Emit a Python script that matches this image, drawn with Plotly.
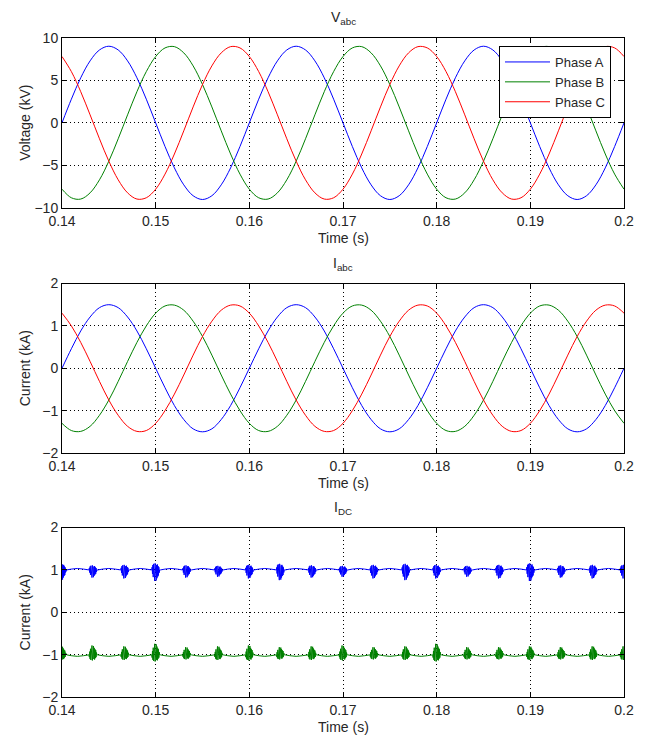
import plotly.graph_objects as go

# ---------------- data ----------------
t_ms = list(range(140, 201))            # sample times in ms (1 ms spacing)
t = [v / 1000 for v in t_ms]

va = [0, 2.78, 5.29, 7.28, 8.56, 9.0, 8.56, 7.28, 5.29, 2.78,
      0, -2.78, -5.29, -7.28, -8.56, -9.0, -8.56, -7.28, -5.29, -2.78,
      0, 2.78, 5.29, 7.28, 8.56, 9.0, 8.56, 7.28, 5.29, 2.78,
      0, -2.78, -5.29, -7.28, -8.56, -9.0, -8.56, -7.28, -5.29, -2.78,
      0, 2.78, 5.29, 7.28, 8.56, 9.0, 8.56, 7.28, 5.29, 2.78,
      0, -2.78, -5.29, -7.28, -8.56, -9.0, -8.56, -7.28, -5.29, -2.78, 0]
vb = [-7.79, -8.80, -8.95, -8.22, -6.69, -4.5, -1.87, 0.94, 3.66, 6.02,
      7.79, 8.80, 8.95, 8.22, 6.69, 4.5, 1.87, -0.94, -3.66, -6.02,
      -7.79, -8.80, -8.95, -8.22, -6.69, -4.5, -1.87, 0.94, 3.66, 6.02,
      7.79, 8.80, 8.95, 8.22, 6.69, 4.5, 1.87, -0.94, -3.66, -6.02,
      -7.79, -8.80, -8.95, -8.22, -6.69, -4.5, -1.87, 0.94, 3.66, 6.02,
      7.79, 8.80, 8.95, 8.22, 6.69, 4.5, 1.87, -0.94, -3.66, -6.02, -7.79]
vc = [7.79, 6.02, 3.66, 0.94, -1.87, -4.5, -6.69, -8.22, -8.95, -8.80,
      -7.79, -6.02, -3.66, -0.94, 1.87, 4.5, 6.69, 8.22, 8.95, 8.80,
      7.79, 6.02, 3.66, 0.94, -1.87, -4.5, -6.69, -8.22, -8.95, -8.80,
      -7.79, -6.02, -3.66, -0.94, 1.87, 4.5, 6.69, 8.22, 8.95, 8.80,
      7.79, 6.02, 3.66, 0.94, -1.87, -4.5, -6.69, -8.22, -8.95, -8.80,
      -7.79, -6.02, -3.66, -0.94, 1.87, 4.5, 6.69, 8.22, 8.95, 8.80, 7.79]

ia = [0, 0.46, 0.88, 1.21, 1.43, 1.5, 1.43, 1.21, 0.88, 0.46,
      0, -0.46, -0.88, -1.21, -1.43, -1.5, -1.43, -1.21, -0.88, -0.46,
      0, 0.46, 0.88, 1.21, 1.43, 1.5, 1.43, 1.21, 0.88, 0.46,
      0, -0.46, -0.88, -1.21, -1.43, -1.5, -1.43, -1.21, -0.88, -0.46,
      0, 0.46, 0.88, 1.21, 1.43, 1.5, 1.43, 1.21, 0.88, 0.46,
      0, -0.46, -0.88, -1.21, -1.43, -1.5, -1.43, -1.21, -0.88, -0.46, 0]
ib = [-1.30, -1.47, -1.49, -1.37, -1.11, -0.75, -0.31, 0.16, 0.61, 1.00,
      1.30, 1.47, 1.49, 1.37, 1.11, 0.75, 0.31, -0.16, -0.61, -1.00,
      -1.30, -1.47, -1.49, -1.37, -1.11, -0.75, -0.31, 0.16, 0.61, 1.00,
      1.30, 1.47, 1.49, 1.37, 1.11, 0.75, 0.31, -0.16, -0.61, -1.00,
      -1.30, -1.47, -1.49, -1.37, -1.11, -0.75, -0.31, 0.16, 0.61, 1.00,
      1.30, 1.47, 1.49, 1.37, 1.11, 0.75, 0.31, -0.16, -0.61, -1.00, -1.30]
ic = [1.30, 1.00, 0.61, 0.16, -0.31, -0.75, -1.11, -1.37, -1.49, -1.47,
      -1.30, -1.00, -0.61, -0.16, 0.31, 0.75, 1.11, 1.37, 1.49, 1.47,
      1.30, 1.00, 0.61, 0.16, -0.31, -0.75, -1.11, -1.37, -1.49, -1.47,
      -1.30, -1.00, -0.61, -0.16, 0.31, 0.75, 1.11, 1.37, 1.49, 1.47,
      1.30, 1.00, 0.61, 0.16, -0.31, -0.75, -1.11, -1.37, -1.49, -1.47,
      -1.30, -1.00, -0.61, -0.16, 0.31, 0.75, 1.11, 1.37, 1.49, 1.47, 1.30]

# DC current: commutation bursts and the small arch between them
dc_level = 1.0
burst_t = [0.1400, 0.1433, 0.1467, 0.1500, 0.1533, 0.1567, 0.1600, 0.1633,
           0.1667, 0.1700, 0.1733, 0.1767, 0.1800, 0.1833, 0.1867, 0.1900,
           0.1933, 0.1967, 0.2000]
burst_amp_pos = [1.2, 0.9, 1.0, 1.3, 0.9, 0.8, 1.0, 1.2, 0.9, 0.8,
                 1.0, 1.2, 1.0, 0.8, 1.0, 1.3, 0.9, 1.0, 1.0]
burst_amp_neg = [1.0, 1.1, 1.0, 1.3, 0.9, 1.0, 1.1, 0.9, 1.0, 1.1,
                 0.9, 1.0, 1.3, 0.9, 0.9, 1.0, 0.9, 1.0, 1.0]
burst_dt_ms = [-0.42, -0.38, -0.34, -0.30, -0.26, -0.22, -0.18, -0.14, -0.10,
               -0.06, -0.02, 0.02, 0.06, 0.10, 0.14, 0.18, 0.22, 0.26, 0.30,
               0.34, 0.38, 0.42]
burst_dy = [0.0, 0.05, -0.07, 0.09, -0.13, 0.11, -0.17, 0.10, -0.20, 0.12,
            -0.16, 0.11, -0.19, 0.09, -0.15, 0.10, -0.12, 0.07, -0.10, 0.05,
            -0.05, 0.0]
arch_f = [0.15, 0.3, 0.5, 0.7, 0.85]
arch_dy = [0.0, 0.02, 0.035, 0.02, 0.0]

x_ticks = [0.14, 0.15, 0.16, 0.17, 0.18, 0.19, 0.2]
x_tick_text = ["0.14", "0.15", "0.16", "0.17", "0.18", "0.19", "0.2"]
v_ticks = [-10, -5, 0, 5, 10]
i_ticks = [-2, -1, 0, 1, 2]


def dc_series(sign, amps):
    xs, ys = [], []
    for k, c in enumerate(burst_t):
        for dt, dy in zip(burst_dt_ms, burst_dy):
            xs.append(c + dt / 1000)
            ys.append(sign * (dc_level + amps[k] * dy))
        if k + 1 < len(burst_t):
            nxt = burst_t[k + 1]
            for f, ay in zip(arch_f, arch_dy):
                xs.append(c + f * (nxt - c))
                ys.append(sign * (dc_level + ay))
    return xs, ys


BLUE, GREEN, RED = "rgb(0,0,255)", "rgb(0,128,0)", "rgb(255,0,0)"
FONT = "Liberation Sans, Arial, Helvetica, sans-serif"
TXT = "#262626"
FS = 14

fig = go.Figure()
for ys, name, col in [(va, "Phase A", BLUE), (vb, "Phase B", GREEN), (vc, "Phase C", RED)]:
    fig.add_trace(go.Scatter(x=t, y=ys, name=name, mode="lines",
                             line=dict(color=col, width=1, shape="spline", smoothing=1.0),
                             xaxis="x", yaxis="y"))
for ys, col in [(ia, BLUE), (ib, GREEN), (ic, RED)]:
    fig.add_trace(go.Scatter(x=t, y=ys, mode="lines", showlegend=False,
                             line=dict(color=col, width=1, shape="spline", smoothing=1.0),
                             xaxis="x2", yaxis="y2"))
xp, yp = dc_series(1, burst_amp_pos)
xn, yn = dc_series(-1, burst_amp_neg)
fig.add_trace(go.Scatter(x=xp, y=yp, mode="lines", showlegend=False,
                         line=dict(color=BLUE, width=1), xaxis="x3", yaxis="y3"))
fig.add_trace(go.Scatter(x=xn, y=yn, mode="lines", showlegend=False,
                         line=dict(color=GREEN, width=1), xaxis="x3", yaxis="y3"))

# page body has an 8 px margin, so the figure is shifted by OFF
OFF = 8
W, H = 645 - OFF, 737 - OFF
L_PX, R_PX = 62 - OFF, 624 - OFF
boxes = [(37.7 - OFF, 208.0 - OFF), (283.5 - OFF, 453.0 - OFF), (527.5 - OFF, 697.3 - OFF)]


def xaxis(anchor):
    return dict(domain=[L_PX / W, R_PX / W], range=[0.14, 0.2], anchor=anchor,
                automargin=False,
                tickvals=x_ticks, ticktext=x_tick_text, ticks="inside", ticklen=5,
                tickcolor="black", showline=True, linecolor="black", linewidth=1,
                mirror="ticks", showgrid=True, gridcolor="black", griddash="1px,3px",
                gridwidth=1, zeroline=False,
                tickfont=dict(family=FONT, size=FS, color=TXT))


def yaxis(anchor, top, bot, rng, tv):
    return dict(domain=[1 - bot / H, 1 - top / H], range=rng, anchor=anchor,
                automargin=False,
                tickvals=tv, ticks="inside", ticklen=5, tickcolor="black",
                showline=True, linecolor="black", linewidth=1, mirror="ticks",
                showgrid=True, gridcolor="black", griddash="1px,3px", gridwidth=1,
                zeroline=False, tickfont=dict(family=FONT, size=FS, color=TXT))


fig.update_layout(
    width=W, height=H, margin=dict(l=0, r=0, t=0, b=0, autoexpand=False),
    paper_bgcolor="white", plot_bgcolor="white",
    font=dict(family=FONT, size=FS, color=TXT),
    xaxis=xaxis("y"), yaxis=yaxis("x", *boxes[0], [-10, 10], v_ticks),
    xaxis2=xaxis("y2"), yaxis2=yaxis("x2", *boxes[1], [-2, 2], i_ticks),
    xaxis3=xaxis("y3"), yaxis3=yaxis("x3", *boxes[2], [-2, 2], i_ticks),
    legend=dict(x=(499 - OFF) / W, y=1 - (46 - OFF) / H, xanchor="left", yanchor="top",
                bgcolor="white", bordercolor="black", borderwidth=1,
                font=dict(family=FONT, size=13, color=TXT),
                tracegroupgap=0, itemwidth=45),
    showlegend=True,
)

cx = (L_PX + R_PX) / 2 / W
titles = ["V<sub>abc</sub>", "I<sub>abc</sub>", "I<sub>DC</sub>"]
ytitles = ["Voltage (kV)", "Current (kA)", "Current (kA)"]
ann = []
for (top, bot), tt, yt in zip(boxes, titles, ytitles):
    ann.append(dict(text=tt, x=cx, y=1 - (top - 9) / H, xref="paper", yref="paper",
                    xanchor="center", yanchor="bottom", showarrow=False,
                    font=dict(family=FONT, size=FS, color=TXT)))
    ann.append(dict(text="Time (s)", x=cx, y=1 - (bot + 30) / H, xref="paper", yref="paper",
                    xanchor="center", yanchor="middle", showarrow=False,
                    font=dict(family=FONT, size=FS, color=TXT)))
    ann.append(dict(text=yt, x=(25 - OFF) / W, y=1 - (top + bot) / 2 / H, xref="paper",
                    yref="paper", xanchor="center", yanchor="middle", textangle=-90,
                    showarrow=False, font=dict(family=FONT, size=FS, color=TXT)))
fig.update_layout(annotations=ann)

fig.write_html("out.html")
